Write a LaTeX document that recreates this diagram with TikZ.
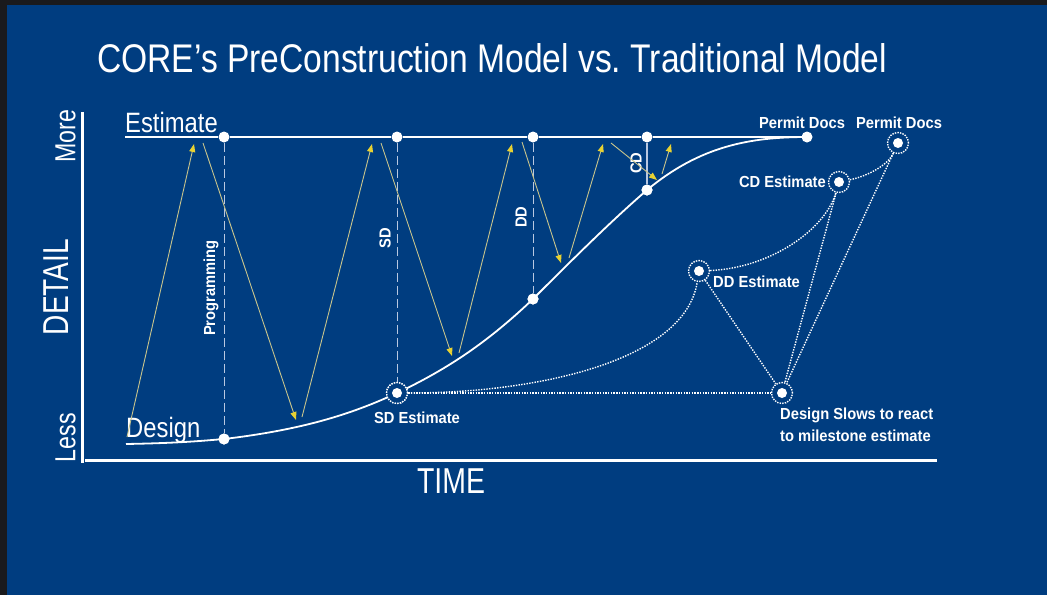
\documentclass[tikz,border=0pt]{standalone}
\usepackage{fontspec}
\usepackage{graphicx}
\setmainfont{Liberation Sans}
\usetikzlibrary{arrows.meta}

\definecolor{slide}{RGB}{0,61,128}
\definecolor{framedark}{RGB}{26,26,28}
\definecolor{guide}{RGB}{185,200,225}
\definecolor{arrowline}{RGB}{200,196,140}
\definecolor{arrowhead}{RGB}{232,210,50}

% horizontally condensed text
\newcommand\narrow[2]{\scalebox{#1}[1]{#2}}

\begin{document}
\frenchspacing
\begin{tikzpicture}[x=1pt,y=-1pt,
  every node/.style={text=white,inner sep=0pt},
  estdot/.style={circle,fill=white,minimum size=11pt},
  ring/.style={circle,draw=white,line width=1.4pt,dash pattern=on 1.4pt off 1.2pt,
    minimum size=21pt,
    path picture={\fill[white] (path picture bounding box.center) circle (5pt);}},
  guideline/.style={draw=guide,line width=1pt,dash pattern=on 9pt off 4pt},
  flow/.style={draw=arrowline,line width=0.9pt,
    -{Triangle[length=8pt,width=6pt,color=arrowhead]}},
  trad/.style={draw=white,line width=1.4pt,dash pattern=on 1.4pt off 1.3pt},
  axis/.style={draw=white,line width=3pt},
  biglabel/.style={font=\fontsize{28}{30}\selectfont},
  axislabel/.style={font=\fontsize{36}{40}\selectfont},
  tag/.style={font=\fontsize{16}{22}\selectfont\bfseries},
]

% slide background
\fill[slide] (0,0) rectangle (1047,595);
\fill[framedark] (0,0) rectangle (1047,5);
\fill[framedark] (0,0) rectangle (7,595);
\useasboundingbox (0,0) rectangle (1047,595);

% title
\node[anchor=base west,font=\fontsize{40}{44}\selectfont] (title) at (97,72)
  {\narrow{0.84}{CORE’s PreConstruction Model vs. Traditional Model}};

% axes
\coordinate (yTop) at (82,112);
\coordinate (yBot) at (82,463);
\coordinate (xLeft) at (85,460);
\coordinate (xRight) at (937,460);
\draw[axis] (yTop) -- (yBot);
\draw[axis] (xLeft) -- (xRight);

\node[axislabel,rotate=90] (detail) at (56,287) {\narrow{0.78}{DETAIL}};
\node[font=\fontsize{29}{32}\selectfont,rotate=90] (more) at (65.5,136.5) {\narrow{0.8}{More}};
\node[font=\fontsize{29}{32}\selectfont,rotate=90] (less) at (65.5,437.5) {\narrow{0.8}{Less}};
\node[axislabel,anchor=base] (time) at (451,493) {\narrow{0.79}{TIME}};

% estimate line and its milestones
\coordinate (estStart) at (125,137);
\node[estdot] (e1) at (224,137) {};
\node[estdot] (e2) at (397,137) {};
\node[estdot] (e3) at (533,137) {};
\node[estdot] (e4) at (647,137) {};
\node[estdot] (permitA) at (807,137) {};
\draw[white,line width=1.5pt] (estStart) -- (e1) -- (e2) -- (e3) -- (e4) -- (permitA);
\node[biglabel,anchor=base west] (estimate) at (125,132) {\narrow{0.85}{Estimate}};

% design curve and its milestones
\coordinate (desStart) at (126,444);
\node[estdot] (d1) at (224,439) {};
\node[ring] (sdE) at (397,393) {};
\node[estdot] (d3) at (533,299) {};
\node[estdot] (d4) at (647,190) {};
\draw[white,line width=1.8pt] (desStart)
  .. controls (180,443) and (200,441) .. (d1.center)
  .. controls (300,430) and (350,415) .. (sdE.center)
  .. controls (450,368) and (490,340) .. (d3.center)
  .. controls (570,262) and (610,222) .. (d4.center)
  .. controls (700,146) and (750,137) .. (permitA.center);
\node[estdot] at (d1) {};
\node[estdot] at (d3) {};
\node[estdot] at (d4) {};
\node[ring,fill=slide] at (sdE) {};
\node[biglabel,anchor=base west] (design) at (126,437) {\narrow{0.85}{Design}};

% phase guides
\draw[guideline] (e1) -- (d1);
\draw[guideline] (e2) -- (sdE);
\draw[guideline] (e3) -- (d3);
\draw[draw=guide,line width=1.2pt] (e4) -- (d4);
\node[tag,rotate=90] (prog) at (211,288) {\narrow{0.92}{Programming}};
\node[tag,rotate=90] (sd) at (385,238) {\narrow{0.92}{SD}};
\node[tag,rotate=90] (dd) at (521,217) {\narrow{0.92}{DD}};
\node[tag,rotate=90] (cd) at (636,163) {\narrow{0.92}{CD}};

% iteration arrows between design and estimate
\coordinate (a1s) at (127,437); \coordinate (a1e) at (194,144);
\coordinate (a2s) at (203,143); \coordinate (a2e) at (296,420);
\coordinate (a3s) at (302,417); \coordinate (a3e) at (372,144);
\coordinate (a4s) at (381,143); \coordinate (a4e) at (452,356);
\coordinate (a5s) at (459,353); \coordinate (a5e) at (512,144);
\coordinate (a6s) at (522,142); \coordinate (a6e) at (561,263);
\coordinate (a7s) at (569,258); \coordinate (a7e) at (603,144);
\coordinate (a8s) at (611,143); \coordinate (a8e) at (657,180);
\coordinate (a9s) at (662,174); \coordinate (a9e) at (671,144);
\foreach \i in {1,...,9} \draw[flow] (a\i s) -- (a\i e);

% traditional milestone estimates
\node[ring] (ddE) at (699,271) {};
\node[ring] (cdE) at (839,182) {};
\node[ring] (permitB) at (898,143) {};
\node[ring] (slows) at (782,393) {};

\draw[trad] (sdE) -- (slows);
\draw[trad] (sdE) .. controls (540,393) and (685,360) .. (ddE);
\draw[trad] (ddE) .. controls (770,268) and (825,230) .. (cdE);
\draw[trad] (cdE) .. controls (868,176) and (888,165) .. (permitB);
\draw[trad] (ddE) -- (slows);
\draw[trad] (cdE) -- (slows);
\draw[trad] (permitB) -- (slows);

% milestone labels
\node[tag] (permitAlbl) at (802,123) {\narrow{0.92}{Permit Docs}};
\node[tag] (permitBlbl) at (899,123) {\narrow{0.92}{Permit Docs}};
\node[tag,anchor=east] (cdlbl) at (826,182) {\narrow{0.92}{CD Estimate}};
\node[tag,anchor=west] (ddlbl) at (713,282) {\narrow{0.92}{DD Estimate}};
\node[tag] (sdlbl) at (417,418) {\narrow{0.92}{SD Estimate}};
\node[tag,anchor=north west,align=left] (slowlbl) at (780,408)
  {\narrow{0.92}{Design Slows to react}\\\narrow{0.92}{to milestone estimate}};

\end{tikzpicture}
\end{document}
